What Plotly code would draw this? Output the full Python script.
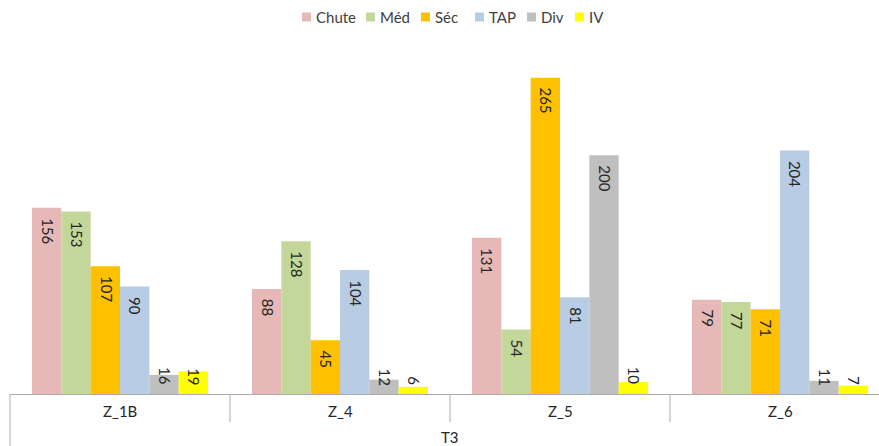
import plotly.graph_objects as go

# Categories (zones) and the group label under them
zones = ["Z_1B", "Z_4", "Z_5", "Z_6"]
group_label = "T3"

# Series values per zone
chute = [156, 88, 131, 79]
med = [153, 128, 54, 77]
sec = [107, 45, 265, 71]
tap = [90, 104, 81, 204]
div = [16, 12, 200, 11]
iv = [19, 6, 10, 7]

series_names = ["Chute", "Méd", "Séc", "TAP", "Div", "IV"]
series_values = [chute, med, sec, tap, div, iv]
series_colors = ["#E6B8B7", "#C4D79B", "#FFC000", "#B8CCE4", "#BFBFBF", "#FFFF00"]

FONT = "Lato, Open Sans, sans-serif"
TEXT_COLOR = "#262626"
LEGEND_COLOR = "#404040"
LINE_COLOR = "#ABABAB"

# Figure geometry
W, H = 879, 446
ML, MR, MT, MB = 10, 0, 36, 52
plot_w = W - ML - MR
plot_h = H - MT - MB
cat_px = 220  # pixel width of one zone
x_min = -0.5
x_max = x_min + plot_w / cat_px
y_max = 300
BARGAP = 0.2
n_series = len(series_names)
bar_w = (1 - BARGAP) / n_series

fig = go.Figure()
xs = list(range(len(zones)))
annotations = []
for k, (name, vals, color) in enumerate(zip(series_names, series_values, series_colors)):
    fig.add_trace(go.Bar(
        name=name, x=xs, y=vals,
        marker=dict(color=color, line=dict(width=0)),
        showlegend=False,
    ))
    # Rotated value labels: inside the top of tall bars; short bars get
    # their label sitting just above the baseline
    for i, v in enumerate(vals):
        cx = i - (1 - BARGAP) / 2 + (k + 0.5) * bar_w
        inside = v >= 30
        annotations.append(dict(
            x=cx, xref="x", y=v if inside else 0, yref="y",
            text=str(v), showarrow=False, textangle=90,
            font=dict(family=FONT, size=15, color=TEXT_COLOR),
            xanchor="center", yanchor="top" if inside else "bottom",
            yshift=-8 if inside else 7, xshift=1,
        ))


def px_to_paper_y(py):
    return (H - MB - py) / plot_h


def px_to_paper_x(px):
    return (px - ML) / plot_w


def x_to_paper(v):
    return (v - x_min) / (x_max - x_min)


shapes = []
# Dividers between zones; the outer ones reach down past the group label
for i in range(len(zones) + 1):
    bx = i - 0.5
    outer = i == 0 or i == len(zones)
    y1 = px_to_paper_y(446 if outer else 422)
    shapes.append(dict(type="line", xref="paper", yref="paper",
                       x0=x_to_paper(bx), x1=x_to_paper(bx), y0=0, y1=y1,
                       line=dict(color=LINE_COLOR, width=1)))

for i, z in enumerate(zones):
    annotations.append(dict(x=i, xref="x", y=px_to_paper_y(411), yref="paper",
                            text=z, showarrow=False,
                            font=dict(family=FONT, size=15, color=TEXT_COLOR),
                            xanchor="center", yanchor="middle"))

annotations.append(dict(x=x_to_paper(1.5), xref="paper", y=px_to_paper_y(437), yref="paper",
                        text=group_label, showarrow=False,
                        font=dict(family=FONT, size=15, color=TEXT_COLOR),
                        xanchor="center", yanchor="middle"))

# Legend row across the top: small colour squares followed by names
legend_x = [302, 366, 421, 475, 527, 575]
legend_y = 17
sq = 9
for name, color, lx in zip(series_names, series_colors, legend_x):
    shapes.append(dict(type="rect", xref="paper", yref="paper",
                       x0=px_to_paper_x(lx), x1=px_to_paper_x(lx + sq),
                       y0=px_to_paper_y(legend_y + sq / 2), y1=px_to_paper_y(legend_y - sq / 2),
                       fillcolor=color, line=dict(width=0)))
    annotations.append(dict(x=px_to_paper_x(lx + sq + 3), xref="paper",
                            y=px_to_paper_y(legend_y), yref="paper",
                            text=name, showarrow=False,
                            font=dict(family=FONT, size=15, color=LEGEND_COLOR),
                            xanchor="left", yanchor="middle"))

fig.update_layout(
    width=W, height=H,
    margin=dict(l=ML, r=MR, t=MT, b=MB, pad=0),
    paper_bgcolor="white", plot_bgcolor="white",
    barmode="group", bargap=BARGAP, bargroupgap=0,
    showlegend=False,
    xaxis=dict(range=[x_min, x_max], showticklabels=False, showgrid=False,
               zeroline=False, showline=True, linecolor=LINE_COLOR, linewidth=1,
               ticks=""),
    yaxis=dict(range=[0, y_max], visible=False, showgrid=False, zeroline=False),
    shapes=shapes,
    annotations=annotations,
)

fig.write_html("out.html")
